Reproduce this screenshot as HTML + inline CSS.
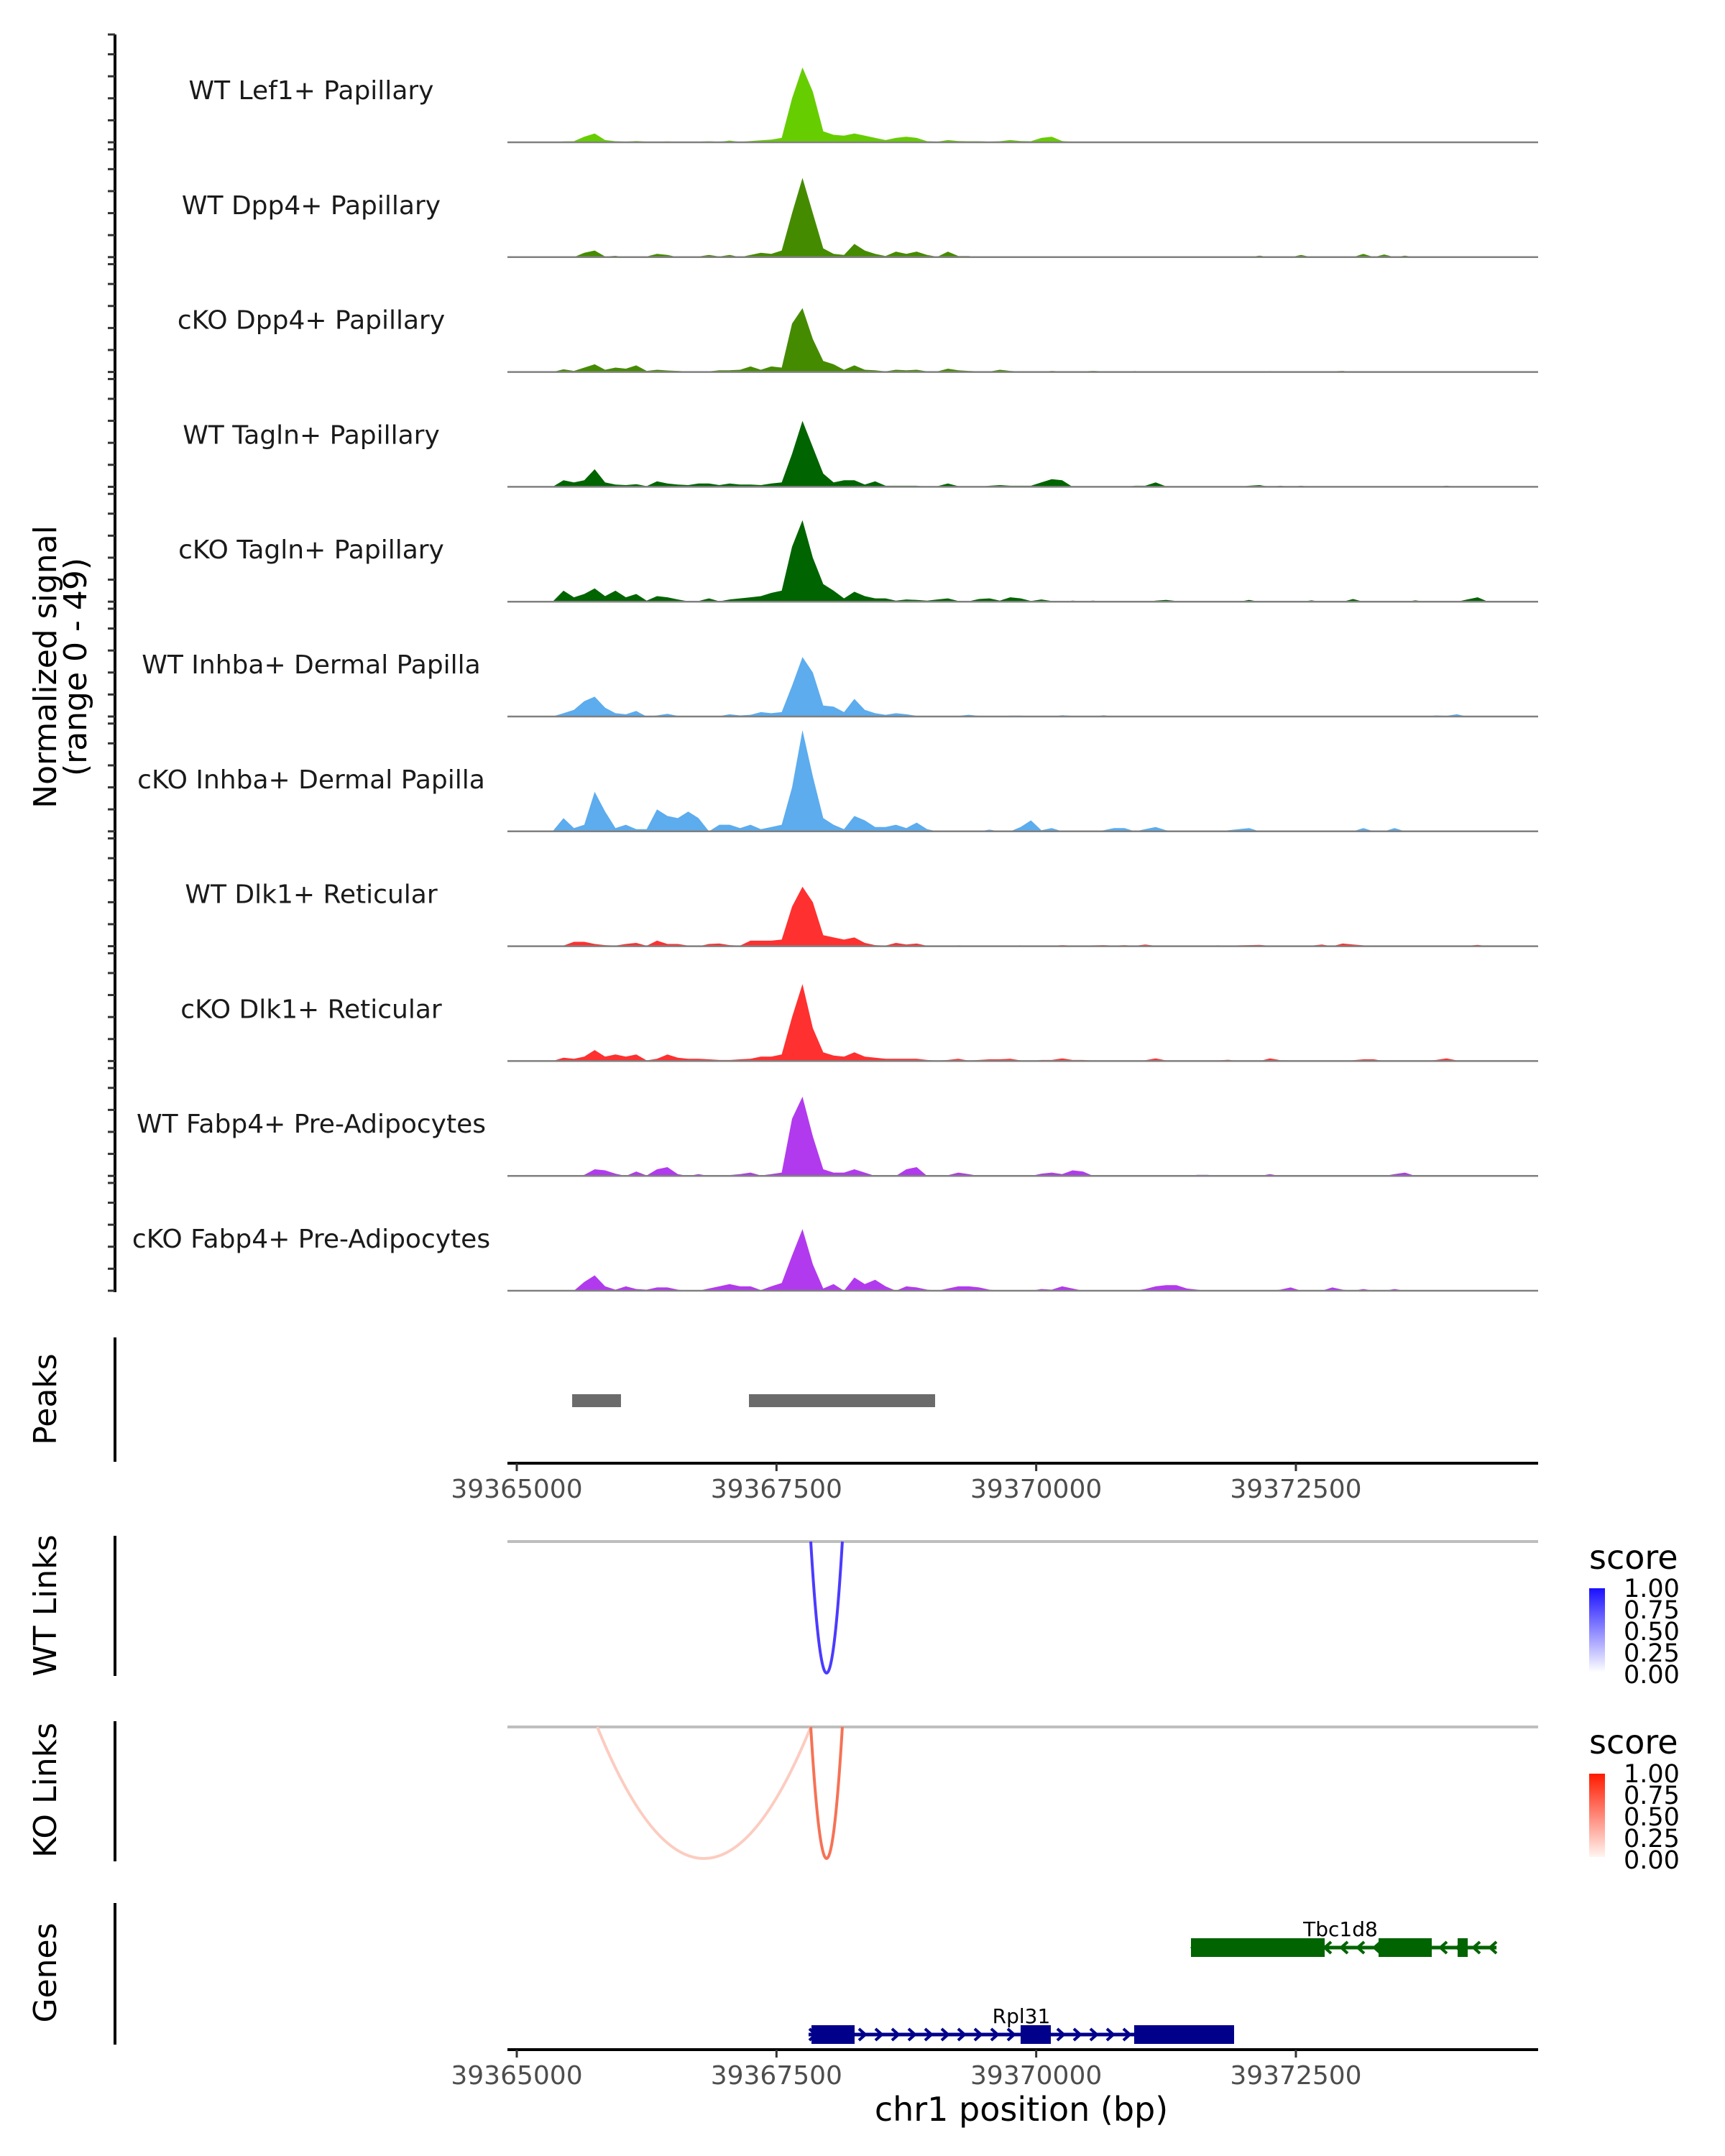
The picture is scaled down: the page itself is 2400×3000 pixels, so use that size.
<!DOCTYPE html>
<html><head><meta charset="utf-8"><style>
html,body{margin:0;padding:0;background:#fff;}
svg{display:block;font-family:"DejaVu Sans","Liberation Sans",sans-serif;}
</style></head><body>
<svg id="chart" width="2400" height="3000" viewBox="0 0 2400 3000" xmlns="http://www.w3.org/2000/svg">
<defs>
<linearGradient id="gBlue" x1="0" y1="1" x2="0" y2="0"><stop offset="0" stop-color="#ffffff"/><stop offset="1" stop-color="#1a10ff"/></linearGradient>
<linearGradient id="gRed" x1="0" y1="1" x2="0" y2="0"><stop offset="0" stop-color="#fff5f0"/><stop offset="1" stop-color="#ff1a00"/></linearGradient>
</defs>
<g>
<text x="78" y="928" font-size="44" text-anchor="middle" fill="#000" transform="rotate(-90 78 928)">Normalized signal</text>
<text x="120" y="928" font-size="44" text-anchor="middle" fill="#000" transform="rotate(-90 120 928)">(range 0 - 49)</text>
</g>
<text x="78" y="1947" font-size="44" text-anchor="middle" transform="rotate(-90 78 1947)">Peaks</text>
<text x="78" y="2234" font-size="44" text-anchor="middle" transform="rotate(-90 78 2234)">WT Links</text>
<text x="78" y="2491" font-size="44" text-anchor="middle" transform="rotate(-90 78 2491)">KO Links</text>
<text x="78" y="2745" font-size="44" text-anchor="middle" transform="rotate(-90 78 2745)">Genes</text>
<text x="1421" y="2951" font-size="46" text-anchor="middle">chr1 position (bp)</text>
<g>
<text x="2211" y="2183" font-size="46">score</text>
<rect x="2211" y="2210" width="22" height="117" fill="url(#gBlue)"/>
<text x="2259" y="2222" font-size="35">1.00</text><text x="2259" y="2252" font-size="35">0.75</text><text x="2259" y="2282" font-size="35">0.50</text><text x="2259" y="2312" font-size="35">0.25</text><text x="2259" y="2342" font-size="35">0.00</text>
</g>
<g>
<text x="2211" y="2440" font-size="46">score</text>
<rect x="2211" y="2468" width="22" height="116" fill="url(#gRed)"/>
<text x="2259" y="2480" font-size="35">1.00</text><text x="2259" y="2510" font-size="35">0.75</text><text x="2259" y="2540" font-size="35">0.50</text><text x="2259" y="2570" font-size="35">0.25</text><text x="2259" y="2600" font-size="35">0.00</text>
</g>
</svg>
<script>
// ----- data -----
const binStart = 39365400;
const binSize = 100;
const trackLabels = ["WT Lef1+ Papillary","WT Dpp4+ Papillary","cKO Dpp4+ Papillary","WT Tagln+ Papillary","cKO Tagln+ Papillary","WT Inhba+ Dermal Papilla","cKO Inhba+ Dermal Papilla","WT Dlk1+ Reticular","cKO Dlk1+ Reticular","WT Fabp4+ Pre-Adipocytes","cKO Fabp4+ Pre-Adipocytes"];
const trackColors = ["#66cd00","#458b00","#458b00","#006400","#006400","#5cacee","#5cacee","#ff3030","#ff3030","#b23aee","#b23aee"];
const sigLef1WT = [.4,.5,2.5,4,1,.5,.3,.6,.3,.2, .4,.2,.2,.3,.5,.2,.8,.2,.6,.9, 1.2,2,20,34,23,5,3.4,3,4,3, 2,1,2,2.5,2,.5,.3,1,.6,.5, .5,.3,.5,1,.6,.5,2,2.5,.6,.2, 0,0,0,0,0,0,0,0,0,0, 0,0,0,0,0,.3,.2,.3,.2,.2, .3,.2,.2,.2,0,0,0,0,0,0, 0,0,0,0,.2,.2,.1,0,0,0];
const sigDpp4WT = [0,0,2,3,.3,.6,0,0,.3,1.5, 1,0,0,.3,1,.3,1,0,1,2, 1.5,3,20,36,20,4,1.5,1,6,3, 1.5,.5,2.5,1.5,2.5,1,.2,2.5,.5,.5, 0,0,0,0,0,0,0,.2,0,0, 0,0,0,0,0,0,0,0,0,0, 0,0,0,0,0,0,0,.7,0,0, 0,1,0,.3,0,0,0,1.5,0,1.2, 0,.7,0,.3,0,.3,0,0,.2,0];
const sigDpp4KO = [1.2,.5,2,3.5,1,2,1.5,3,.5,1, .7,.5,.2,.2,.3,.8,.8,1,2.5,1, 2.5,2,22,29,15,5,3.5,1,3,1, .8,.3,1,.8,1,.3,.3,1.5,.8,.5, .3,.2,1,.5,.2,.2,0,.5,.2,.2, .3,.5,.3,0,.2,.4,.2,0,.1,.3, 0,0,.2,0,0,0,0,0,.4,0, .2,.3,0,0,.3,.5,0,.2,0,0, 0,0,0,0,0,.2,.2,0,0,0];
const sigTaglnWT = [3,2,3,8,2,1,.8,1.2,.3,2.5, 1.5,1,.8,1.5,1.5,.8,1.5,1,1,.8, 1.5,2,15,30,18,6,2,3,3,1, 2.5,.5,.5,.5,.5,0,.3,1.5,.3,0, 0,.5,.8,.5,.5,.5,2,3.5,3,0, 0,0,0,0,0,.5,.5,2,.2,0, 0,0,0,0,0,0,.5,.8,0,.5, 0,.5,0,0,0,0,0,0,0,0, 0,.3,.3,0,0,.5,0,0,0,0];
const sigTaglnKO = [5,2,3.5,6,2.5,5,2,3.5,.5,2.5, 2,1,.2,.3,1.5,.2,1,1.5,2,2.5, 4,5,25,37,20,8,5,1.5,4.5,2.5, 1.5,1.5,.5,1,.8,.5,1,1.5,.3,.2, 1.2,1.5,.5,2,1.5,.3,1,.3,0,.5, .2,.5,0,0,0,0,0,.5,.8,.3, 0,0,0,0,0,0,.8,0,0,0, 0,0,.6,0,0,0,1.2,0,0,.3, 0,0,.6,0,0,0,0,1,2,0];
const sigInhbaWT = [1.5,3,7,9,4,1.5,1,2.5,0,.5, 1.2,.3,0,.3,.3,.2,1,.5,.8,2, 1.5,2,14,27,20,5,4.5,2,8,3, 1.5,.8,1.5,1,.3,.3,.3,.3,.3,.8, .3,.3,0,.4,.4,0,.3,0,.6,.3, 0,0,.6,0,.3,0,0,.3,0,0, 0,0,0,0,0,0,0,0,0,0, 0,0,0,0,0,0,0,0,.3,0, 0,0,0,0,.5,.3,1,0,0,0];
const sigInhbaKO = [6,1.5,3,18,9,1.5,3,1,1,10, 7,6,9,6,0,3,3,1.5,3,1, 2,3,20,46,25,6,3,1,7,5, 2,2,3,1.5,4,1,0,0,0,0, 0,.8,0,0,2,5,.5,1.5,0,0, 0,0,.5,1.5,1.5,0,1,2,.5,0, 0,0,0,0,.5,1,1.5,0,0,0, 0,0,0,0,0,0,0,1.5,0,0, 1.5,0,0,0,0,0,0,0,0,0];
const sigDlk1WT = [.3,2,2,1,.5,.3,1,1.5,.2,2.5, 1,1,.3,0,1,1.2,.5,.3,2.5,2.5, 2.5,3,18,27,20,5,4,3,4,1.5, .5,.3,1.5,.8,1.2,.2,0,0,.4,.3, .2,0,.2,.2,.4,0,.2,.2,.5,.3, .2,.4,.5,.3,.5,.2,.8,.2,.2,.2, .1,.2,.2,.4,.2,.4,.5,.6,.2,.2, 0,.2,.3,.8,0,1.2,.8,.4,0,0, 0,0,0,0,0,0,0,.2,.6,0];
const sigDlk1KO = [1.5,1,2,5,2,3,2,3,.3,1, 3,1.5,1,1,.8,.5,.5,.8,1,2, 2,3,20,35,15,4,2.5,2,4,2, 1.5,1,1,1,1,.5,.2,.5,1,.2, .5,.8,.8,1,.3,0,.5,.5,1.2,.5, .5,.2,0,0,.3,0,.4,1.2,.3,0, .3,0,0,.3,.6,0,0,0,1.2,.4, .3,0,0,0,0,0,.4,.8,.8,0, 0,.3,0,0,.5,1.2,.3,.1,.1,0];
const sigFabp4WT = [0,0,.5,3,2.5,1,0,2,.2,3, 4,.8,0,.8,0,0,.4,.8,1.5,.2, .8,1.5,26,36,18,3,1.5,1.5,3,1.5, 0,0,0,3,4,0,0,.3,1.5,.8, 0,0,0,0,0,0,1,1.5,.8,2.5, 2,0,0,0,0,0,0,0,0,0, 0,.5,.5,0,0,0,0,0,.8,0, 0,0,0,0,0,0,0,0,0,0, .8,1.5,0,0,0,0,0,0,0,0];
const sigFabp4KO = [0,0,4,7,2,.5,2,.8,.5,1.5, 1.5,.5,0,0,1,2,3,2,2,.3, 2,3.5,16,28,12,1,3,0,6,3, 5,2,0,2,1.5,.5,0,1,2,2, 1.5,.5,0,0,0,0,.8,.5,2,1, 0,0,0,0,0,0,.8,2,2.5,2.5, 1,.5,0,0,0,0,0,0,0,.5, 1.5,0,0,0,1.5,.5,0,.8,0,0, .8,0,0,0,0,0,0,0,0,0];
const trackSignals = [sigLef1WT,sigDpp4WT,sigDpp4KO,sigTaglnWT,sigTaglnKO,sigInhbaWT,sigInhbaKO,sigDlk1WT,sigDlk1KO,sigFabp4WT,sigFabp4KO];
const yMax = 49;
const yTicks = [0,10,20,30,40,49];
const xTicks = [39365000,39367500,39370000,39372500];
const peakStarts = [39365533,39367235];
const peakEnds = [39366003,39369027];
const wtLinkStarts = [39367830];
const wtLinkEnds = [39368134];
const wtLinkScores = [0.8];
const koLinkStarts = [39365775,39367830];
const koLinkEnds = [39367830,39368134];
const koLinkScores = [0.2,0.7];
const geneNames = ["Tbc1d8","Rpl31"];
const geneStarts = [39371490,39367809];
const geneEnds = [39374431,39371905];
const geneStrands = ["-","+"];
const exonStarts = [[39371490,39373296,39374057],[39367837,39369850,39370943]];
const exonEnds = [[39372777,39373808,39374154],[39368252,39370141,39371905]];

// ----- layout -----
const NS = "http://www.w3.org/2000/svg";
const svg = document.getElementById("chart");
const X0 = 706, X1 = 2140;
const x = p => 719 + (p - 39365000) * 0.14453;
const trackBase = k => 198 + 159.8 * k;
const trackH = 150;
function mk(tag, attrs, parent){ const e = document.createElementNS(NS, tag); for (const a in attrs) e.setAttribute(a, attrs[a]); (parent||svg).appendChild(e); return e; }

const leftAxis = mk("g", {});


mk("line", {x1:160, x2:160, y1:trackBase(0)-trackH, y2:trackBase(10)+2, stroke:"#000", "stroke-width":4}, leftAxis);

trackSignals.forEach((sig, k) => {
  const base = trackBase(k);
  const y = v => base - v / yMax * trackH;
  const g = mk("g", {});
  
  
  yTicks.forEach(t => {
    const tk = mk("line", {x1:150, x2:160, y1:y(t), y2:y(t), stroke:"#333", "stroke-width":3}, leftAxis);
    
    
  });
  const lab = mk("text", {x:433, y:base-72+12, "font-size":36, "text-anchor":"middle", fill:"#1a1a1a"}, g);
  
  
  lab.textContent = trackLabels[k];
  let pts = [];
  const first = x(binStart), last = x(binStart + binSize * sig.length);
  pts.push(first - 8 + "," + base);
  sig.forEach((v, i) => { pts.push(x(binStart + binSize * (i + 0.5)).toFixed(1) + "," + y(v).toFixed(1)); });
  pts.push(last - 4 + "," + base);
  const area = mk("polygon", {points: pts.join(" "), fill: trackColors[k]}, g);
  
  
  const bl = mk("line", {x1:X0, x2:X1, y1:base, y2:base, stroke:"#808080", "stroke-width":2.5}, g);
  
  
});

function xAxis(yLine, name){
  const g = mk("g", {});
  
  
  mk("line", {x1:X0, x2:X1, y1:yLine, y2:yLine, stroke:"#000", "stroke-width":4}, g);
  xTicks.forEach(t => {
    mk("line", {x1:x(t), x2:x(t), y1:yLine, y2:yLine+11, stroke:"#333", "stroke-width":3}, g);
    const tl = mk("text", {x:x(t), y:yLine+48, "font-size":36, "text-anchor":"middle", fill:"#4d4d4d"}, g);
    
    
    tl.textContent = t;
  });
}
function vAxis(y1, y2, name){
  const l = mk("line", {x1:160, x2:160, y1:y1, y2:y2, stroke:"#000", "stroke-width":4});
  
  
}

vAxis(1861, 2034, 'peaks-axis');
peakStarts.forEach((s, i) => {
  const r = mk("rect", {x:x(s), y:1940, width:x(peakEnds[i]) - x(s), height:18, fill:"#6b6b6b"});
  
  
});
xAxis(2036, 'peaks-x-axis');

function links(starts, ends, scores, yTop, yBot, color0, color1, name){
  vAxis(yTop - 8, yTop + 187, name + '-axis');
  const bl = mk("line", {x1:X0, x2:X1, y1:yTop, y2:yTop, stroke:"#bebebe", "stroke-width":4});
  
  
  starts.forEach((s, i) => {
    const a = x(s), b = x(ends[i]), sc = scores[i];
    const c = color0.map((c0, j) => Math.round(c0 + (color1[j] - c0) * sc));
    const cy = yTop + (yBot - yTop) * 2;
    const p = mk("path", {d:`M${a},${yTop} Q${(a+b)/2},${cy} ${b},${yTop}`, fill:"none", stroke:`rgb(${c})`, "stroke-width":4});
    
    
  });
}
links(wtLinkStarts, wtLinkEnds, wtLinkScores, 2145, 2328, [255,255,255], [30,10,255], 'wt-links');
links(koLinkStarts, koLinkEnds, koLinkScores, 2403, 2586, [255,240,235], [242,60,20], 'ko-links');

vAxis(2648, 2845, 'genes-axis');
const geneY = [2710, 2831];
const geneColors = ["#006400", "#00008b"];
geneNames.forEach((n, gi) => {
  const g = mk("g", {});
  
  
  const yy = geneY[gi], col = geneColors[gi];
  const a = x(geneStarts[gi]), b = x(geneEnds[gi]);
  mk("line", {x1:a, x2:b, y1:yy, y2:yy, stroke:col, "stroke-width":5}, g);
  const dir = geneStrands[gi] === "+" ? 1 : -1;
  for (let cx = a + 6; cx <= b - 2; cx += 23) {
    mk("polyline", {points:`${cx-5*dir},${yy-8} ${cx+4*dir},${yy} ${cx-5*dir},${yy+8}`, fill:"none", stroke:col, "stroke-width":4}, g);
  }
  exonStarts[gi].forEach((s, j) => {
    const e = mk("rect", {x:x(s), y:yy-13, width:x(exonEnds[gi][j]) - x(s), height:26, fill:col}, g);
    
    
  });
  const lx = gi === 0 ? 1865 : 1421;
  const t = mk("text", {x:lx, y:yy-16, "font-size":28, "text-anchor":"middle", fill:"#000"}, g);
  
  
  t.textContent = n;
});
xAxis(2852, 'genes-x-axis');
</script>
</body></html>
